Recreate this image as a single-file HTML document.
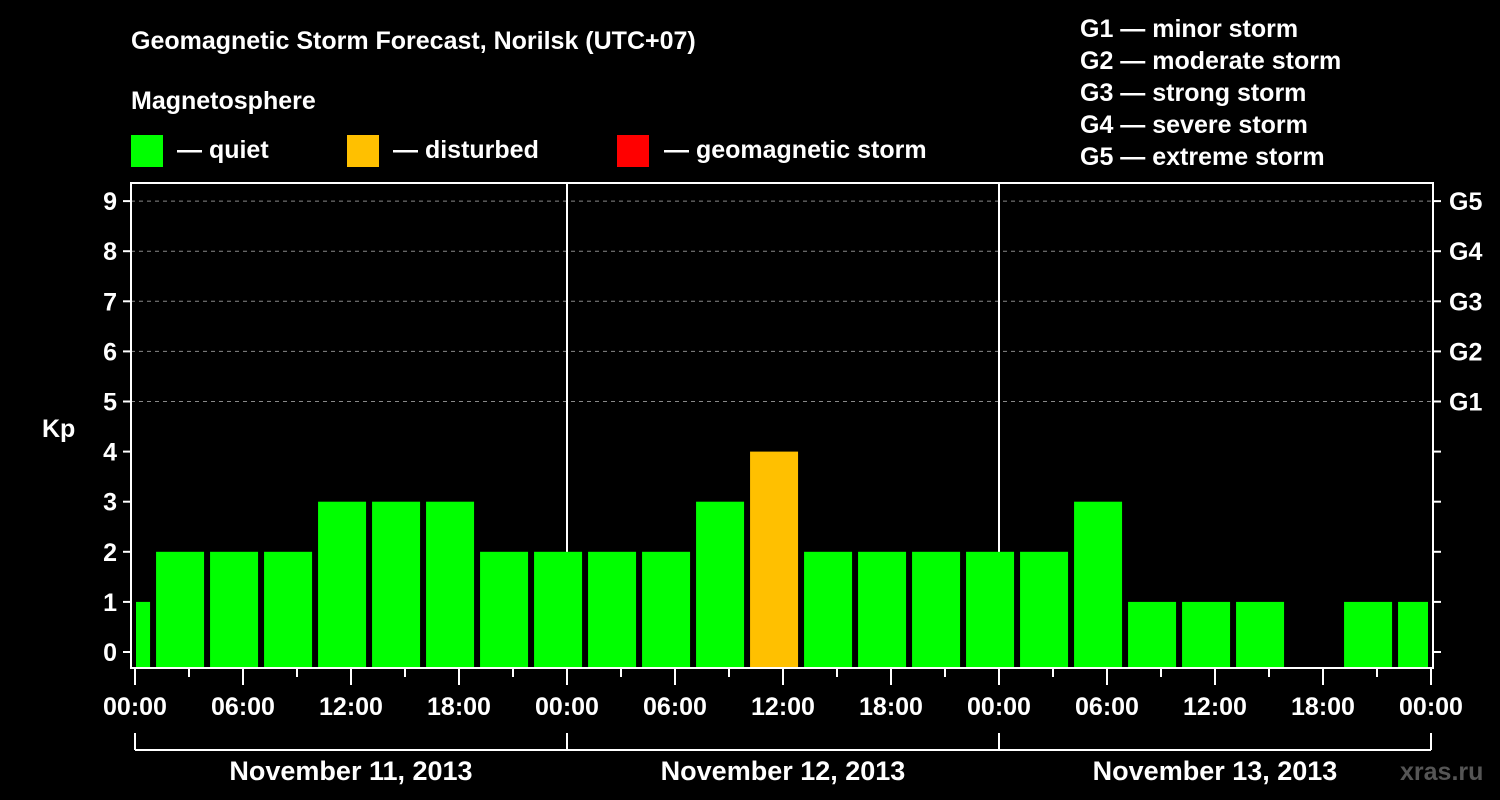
<!DOCTYPE html>
<html><head><meta charset="utf-8"><style>
body{margin:0;background:#000;}
svg{display:block;font-family:"Liberation Sans",sans-serif;font-weight:bold;fill:#fff;}
</style></head><body>
<svg id="chart" width="1500" height="800" viewBox="0 0 1500 800">
<rect width="1500" height="800" fill="#000"/>
<text x="131" y="49" font-size="25">Geomagnetic Storm Forecast, Norilsk (UTC+07)</text>
<text x="131" y="109" font-size="25">Magnetosphere</text>
<g><rect x="131" y="135" width="32" height="32" fill="#00ff00"/><text x="177" y="158" font-size="25">— quiet</text></g>
<g><rect x="347" y="135" width="32" height="32" fill="#ffc000"/><text x="393" y="158" font-size="25">— disturbed</text></g>
<g><rect x="617" y="135" width="32" height="32" fill="#ff0000"/><text x="664" y="158" font-size="25">— geomagnetic storm</text></g>
<g font-size="25">
<text x="1080" y="37">G1 — minor storm</text>
<text x="1080" y="69">G2 — moderate storm</text>
<text x="1080" y="101">G3 — strong storm</text>
<text x="1080" y="133">G4 — severe storm</text>
<text x="1080" y="165">G5 — extreme storm</text>
</g>
<text x="42" y="437" font-size="25">Kp</text>
<text x="1400" y="780" font-size="25" fill="#666" style="fill:#555">xras.ru</text>
<g id="grid"></g>
<g id="bars"></g>
<g id="axes"></g>
</svg>
<script>
const values=[1,2,2,2,3,3,3,2,2,2,2,3,4,2,2,2,2,2,3,1,1,1,0,1,1];
const yTicks=[0,1,2,3,4,5,6,7,8,9];
const gLabels=["G1","G2","G3","G4","G5"];
const xLabels=["00:00","06:00","12:00","18:00","00:00","06:00","12:00","18:00","00:00","06:00","12:00","18:00","00:00"];
const days=["November 11, 2013","November 12, 2013","November 13, 2013"];
const NS="http://www.w3.org/2000/svg";
const L=131,R=1433,T=183,B=668,X0=135,PH=18;
const y=v=>652-v*50.1;
const x=h=>X0+h*PH;
function mk(t,a,p){const e=document.createElementNS(NS,t);for(const k in a)e.setAttribute(k,a[k]);p.appendChild(e);return e;}
const grid=document.getElementById('grid'),bars=document.getElementById('bars'),axes=document.getElementById('axes');
for(let v=5;v<=9;v++){const l=mk('line',{x1:L,x2:R,y1:y(v),y2:y(v),stroke:'#888','stroke-dasharray':'4,4','stroke-width':1},grid);

}
for(let d=1;d<3;d++){const l=mk('line',{x1:x(24*d),x2:x(24*d),y1:T,y2:B,stroke:'#fff','stroke-width':2},grid);

}
values.forEach((v,k)=>{if(v<=0)return;
let x1=x(3*k-1.83),x2=x1+48;x1=Math.max(x1,L+5);x2=Math.min(x2,R-5);
const r=mk('rect',{x:x1,y:y(v),width:x2-x1,height:B-y(v),fill:v>=5?'#ff0000':v>=4?'#ffc000':'#00ff00'},bars);

});
const f=mk('rect',{x:L,y:T,width:R-L,height:B-T,fill:'none',stroke:'#fff','stroke-width':2},axes);


yTicks.forEach(v=>{mk('line',{x1:L-8,x2:L,y1:y(v),y2:y(v),stroke:'#fff','stroke-width':2},axes);
mk('line',{x1:R,x2:R+8,y1:y(v),y2:y(v),stroke:'#fff','stroke-width':2},axes);
const t=mk('text',{x:L-14,y:y(v)+9,'font-size':25,'text-anchor':'end'},axes);t.textContent=v;

});
gLabels.forEach((g,i)=>{const t=mk('text',{x:R+16,y:y(5+i)+9,'font-size':25},axes);t.textContent=g;

});
for(let h=0;h<=72;h+=3){const long=h%6===0;mk('line',{x1:x(h),x2:x(h),y1:B,y2:B+(long?17:9),stroke:'#fff','stroke-width':2},axes);}
xLabels.forEach((s,i)=>{const t=mk('text',{x:x(6*i),y:715,'font-size':25,'text-anchor':'middle'},axes);t.textContent=s;

});
mk('line',{x1:x(0),x2:x(72),y1:750,y2:750,stroke:'#fff','stroke-width':2},axes);
for(let d=0;d<=3;d++)mk('line',{x1:x(24*d),x2:x(24*d),y1:733,y2:750,stroke:'#fff','stroke-width':2},axes);
days.forEach((s,i)=>{const t=mk('text',{x:x(24*i+12),y:780,'font-size':27,'text-anchor':'middle'},axes);t.textContent=s;

});
</script>
</body></html>
